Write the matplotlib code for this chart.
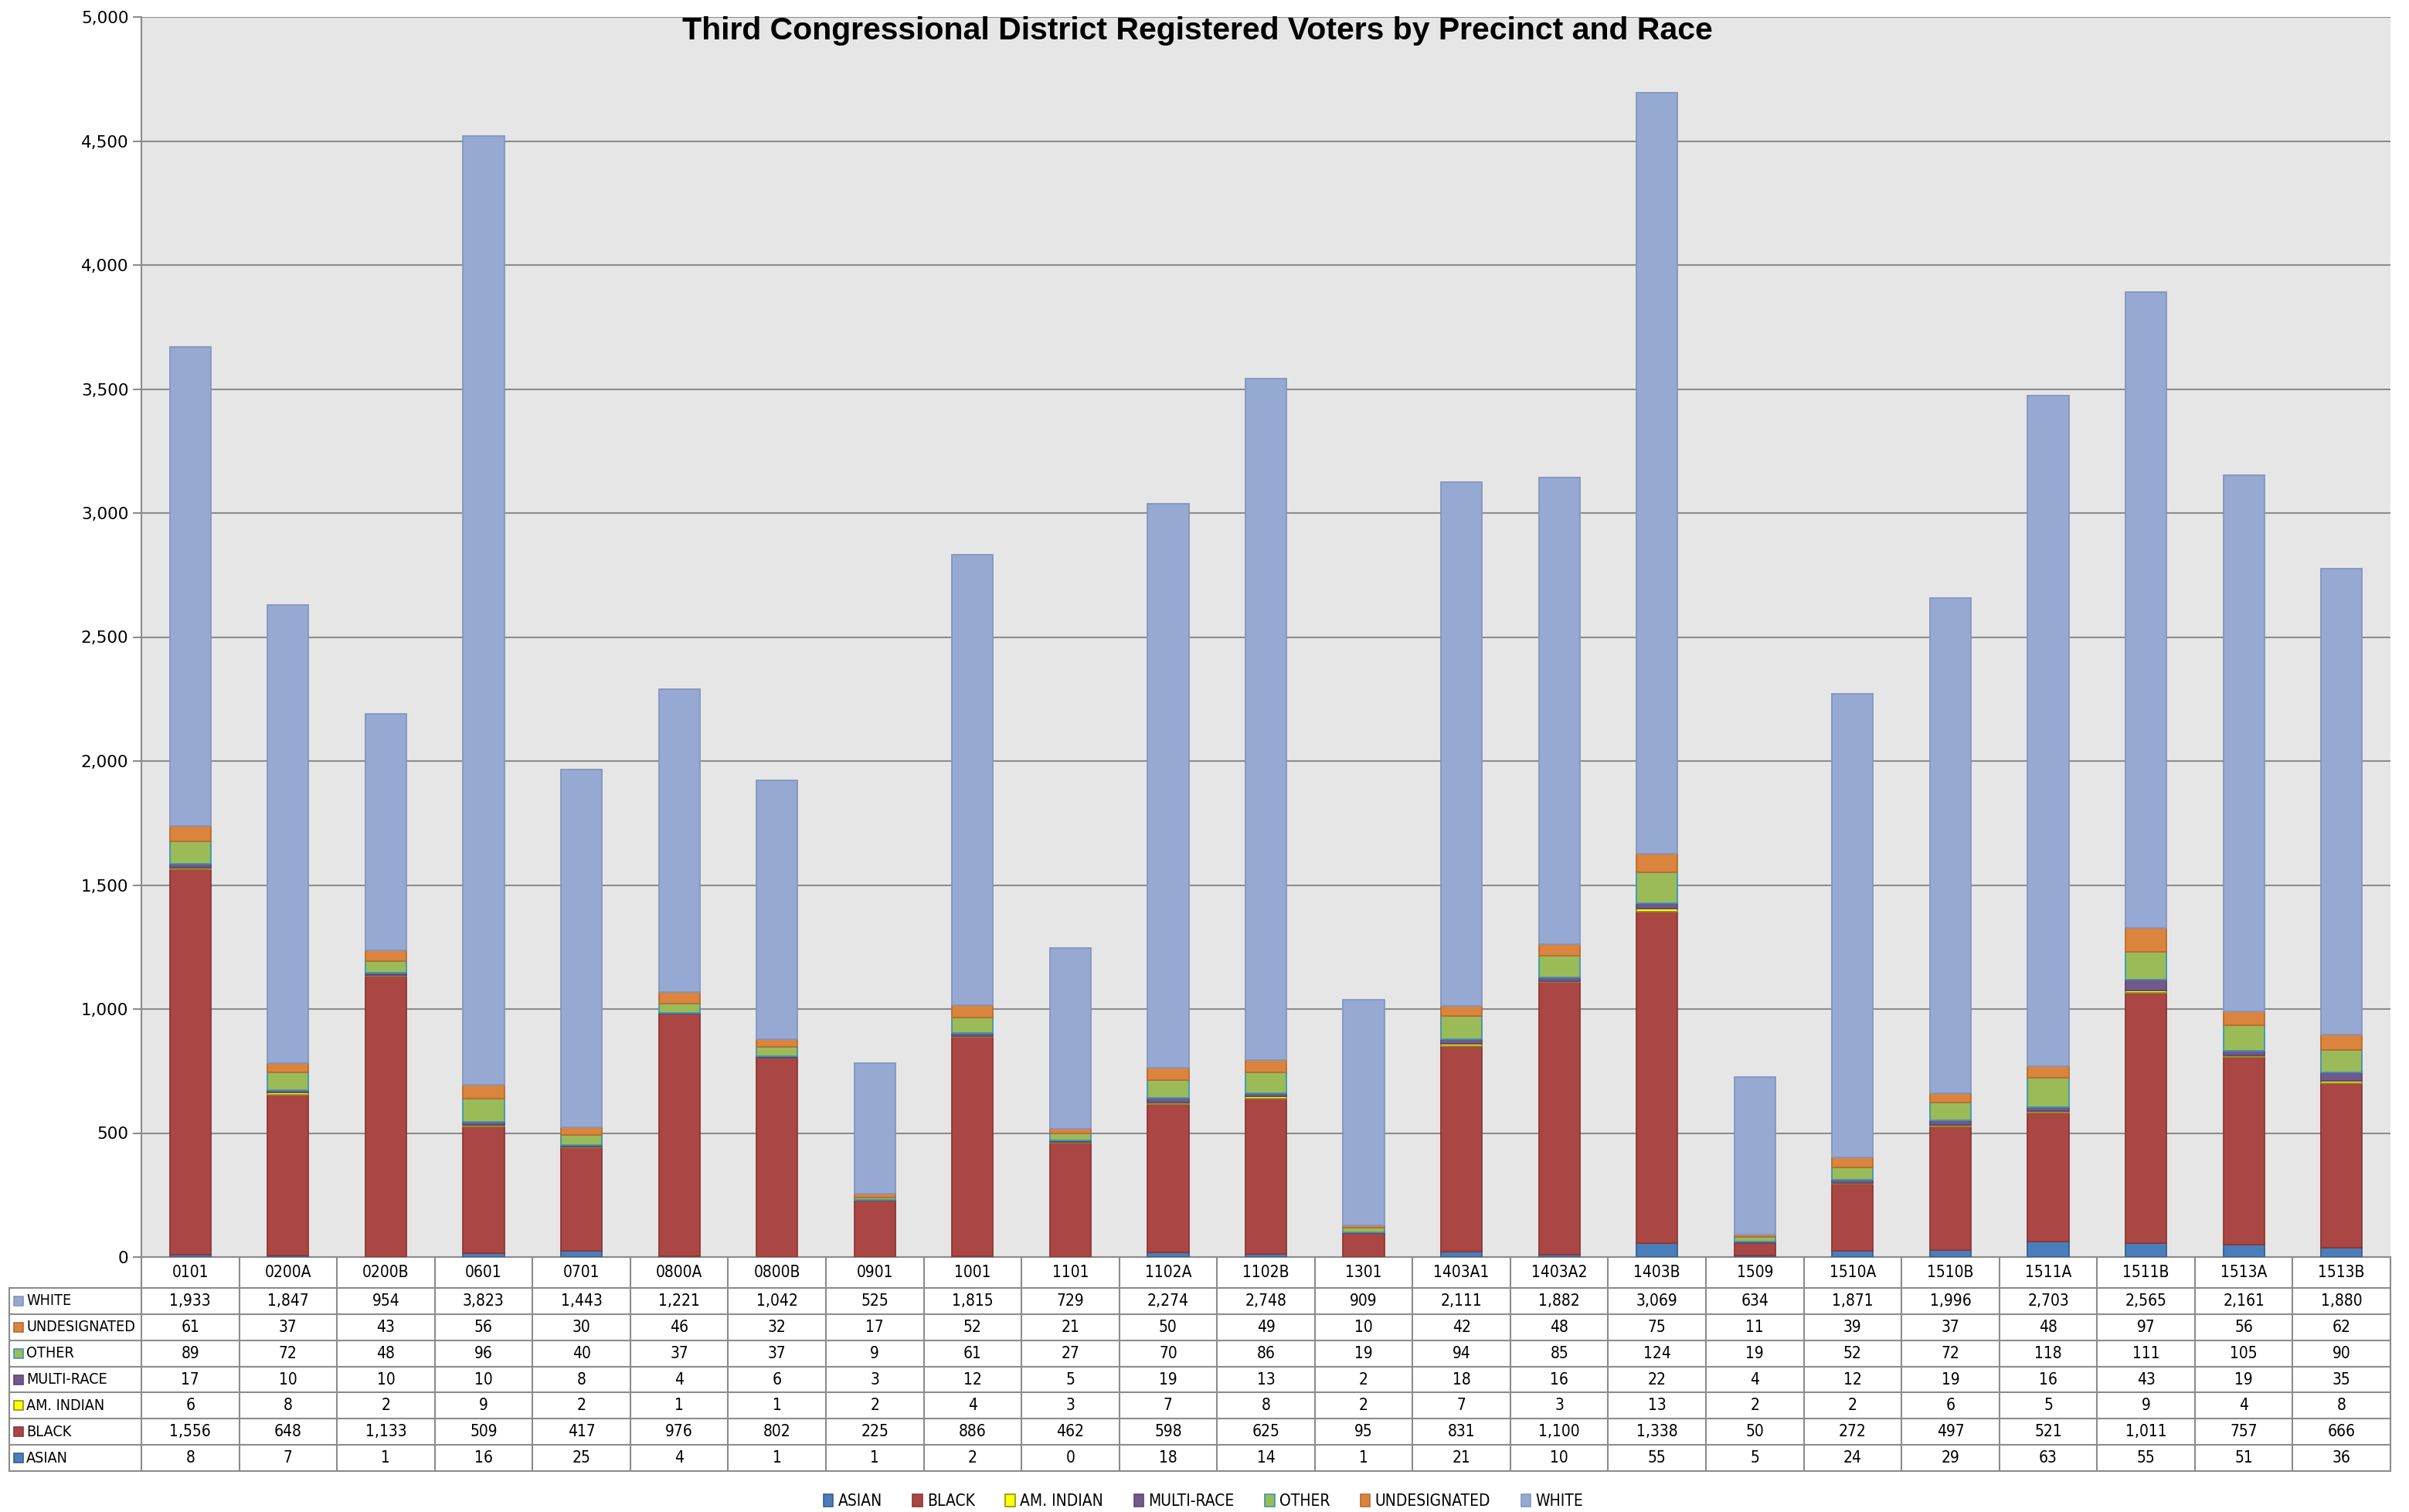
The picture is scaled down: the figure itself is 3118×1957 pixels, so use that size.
import numpy as np
import matplotlib
matplotlib.use("Agg")
from matplotlib import pyplot, font_manager
from matplotlib.patches import Rectangle, Patch
from matplotlib.ticker import FuncFormatter

#----------------------
# データ
#----------------------
precincts = ["0101", "0200A", "0200B", "0601", "0701", "0800A", "0800B", "0901", "1001", "1101",
             "1102A", "1102B", "1301", "1403A1", "1403A2", "1403B", "1509", "1510A", "1510B",
             "1511A", "1511B", "1513A", "1513B"]
asian = [8, 7, 1, 16, 25, 4, 1, 1, 2, 0, 18, 14, 1, 21, 10, 55, 5, 24, 29, 63, 55, 51, 36]
black = [1556, 648, 1133, 509, 417, 976, 802, 225, 886, 462, 598, 625, 95, 831, 1100, 1338, 50,
         272, 497, 521, 1011, 757, 666]
am_indian = [6, 8, 2, 9, 2, 1, 1, 2, 4, 3, 7, 8, 2, 7, 3, 13, 2, 2, 6, 5, 9, 4, 8]
multi_race = [17, 10, 10, 10, 8, 4, 6, 3, 12, 5, 19, 13, 2, 18, 16, 22, 4, 12, 19, 16, 43, 19, 35]
other = [89, 72, 48, 96, 40, 37, 37, 9, 61, 27, 70, 86, 19, 94, 85, 124, 19, 52, 72, 118, 111, 105, 90]
undesignated = [61, 37, 43, 56, 30, 46, 32, 17, 52, 21, 50, 49, 10, 42, 48, 75, 11, 39, 37, 48, 97, 56, 62]
white = [1933, 1847, 954, 3823, 1443, 1221, 1042, 525, 1815, 729, 2274, 2748, 909, 2111, 1882, 3069,
         634, 1871, 1996, 2703, 2565, 2161, 1880]

series_names = ["ASIAN", "BLACK", "AM. INDIAN", "MULTI-RACE", "OTHER", "UNDESIGNATED", "WHITE"]
series_vals = [asian, black, am_indian, multi_race, other, undesignated, white]
fill_colors = ["#4A7EBB", "#AA4643", "#FFFF00", "#71588F", "#9BBB59", "#DB843D", "#95A9D3"]
edge_colors = ["#385D8A", "#8C3836", "#8F8F1F", "#5C4776", "#3D96AE", "#B66D31", "#8496BE"]

title = "Third Congressional District Registered Voters by Precinct and Race"

#----------------------
# レイアウト (px)
#----------------------
W, H = 3118, 1957
plot_l, plot_r, plot_t, plot_b = 183, 3094, 22, 1627
tab_l, tab_b = 12, 1904
grid_c = "#8C8C8C"

# 細いフォント (無ければ DejaVu Sans の condensed)
names = set(f.name for f in font_manager.fontManager.ttflist)
if "Liberation Sans Narrow" in names:
    cell_font = {"family": "Liberation Sans Narrow", "size": 15}
else:
    cell_font = {"family": "DejaVu Sans", "stretch": "condensed", "size": 15}
label_font = dict(cell_font, size=14.2)

fig = pyplot.figure(figsize=(W / 100, H / 100), dpi=100)

ax = fig.add_axes([plot_l / W, (H - plot_b) / H, (plot_r - plot_l) / W, (plot_b - plot_t) / H])
ax.set_facecolor("#E6E6E6")
x = np.arange(len(precincts))
bottom = np.zeros(len(precincts))
for name, vals, fc, ec in zip(series_names, series_vals, fill_colors, edge_colors):
    ax.bar(x, vals, width=0.42, bottom=bottom, color=fc, edgecolor=ec, linewidth=1.3, zorder=3)
    bottom = bottom + np.array(vals)

ax.set_xlim(-0.5, len(precincts) - 0.5)
ax.set_ylim(0, 5000)
ax.set_yticks(np.arange(0, 5001, 500))
ax.yaxis.set_major_formatter(FuncFormatter(lambda v, p: "{:,}".format(int(v))))
ax.set_xticks([])
ax.grid(axis="y", color=grid_c, linewidth=1.5, zorder=0)
ax.tick_params(axis="y", length=8, width=1.5, color=grid_c, labelsize=15.5, pad=4)
for s in ["top", "right"]:
    ax.spines[s].set_visible(False)
for s in ["left", "bottom"]:
    ax.spines[s].set_color(grid_c)
    ax.spines[s].set_linewidth(1.5)

fig.text(0.497, 1 - 40 / H, title, ha="center", va="center", fontsize=29.5, fontweight="bold",
         family=["Liberation Sans", "DejaVu Sans"])

#----------------------
# データテーブル
#----------------------
col_w = (plot_r - plot_l) / len(precincts)
x_min = -0.5 - (plot_l - tab_l) / col_w
tab_h = tab_b - plot_b
head_h = 40
row_h = (tab_h - head_h) / len(series_names)

ax_t = fig.add_axes([tab_l / W, (H - tab_b) / H, (plot_r - tab_l) / W, tab_h / H])
ax_t.set_xlim(x_min, len(precincts) - 0.5)
ax_t.set_ylim(tab_h, 0)
ax_t.axis("off")

for k in range(len(series_names) + 1):
    yy = head_h + k * row_h
    ax_t.plot([x_min, len(precincts) - 0.5], [yy, yy], color=grid_c, linewidth=1.5, clip_on=False)
for i in range(len(precincts) + 1):
    ax_t.plot([i - 0.5, i - 0.5], [0, tab_h], color=grid_c, linewidth=1.5, clip_on=False)
ax_t.plot([x_min, x_min], [head_h, tab_h], color=grid_c, linewidth=1.5, clip_on=False)

for i, p in enumerate(precincts):
    ax_t.text(i, head_h / 2, p, ha="center", va="center", **cell_font)

rows = list(zip(series_names, series_vals, fill_colors, edge_colors))[::-1]
for k, (name, vals, fc, ec) in enumerate(rows):
    yc = head_h + (k + 0.5) * row_h
    ax_t.add_patch(Rectangle((x_min + 6 / col_w, yc - 6), 12 / col_w, 12, facecolor=fc, edgecolor=ec,
                             linewidth=1.2, clip_on=False))
    ax_t.text(x_min + 22 / col_w, yc, name, ha="left", va="center", **label_font)
    for i, v in enumerate(vals):
        ax_t.text(i, yc, "{:,}".format(v), ha="center", va="center", **cell_font)

#----------------------
# 凡例
#----------------------
handles = [Patch(facecolor=fc, edgecolor=ec, linewidth=1.2) for fc, ec in zip(fill_colors, edge_colors)]
fig.legend(handles, series_names, loc="center", bbox_to_anchor=(0.4995, 1 - 1943 / H), ncol=7,
           frameon=False, prop=cell_font, handlelength=0.6, handleheight=0.8,
           handletextpad=0.3, columnspacing=1.9)

fig.savefig("out.png", dpi=100)
